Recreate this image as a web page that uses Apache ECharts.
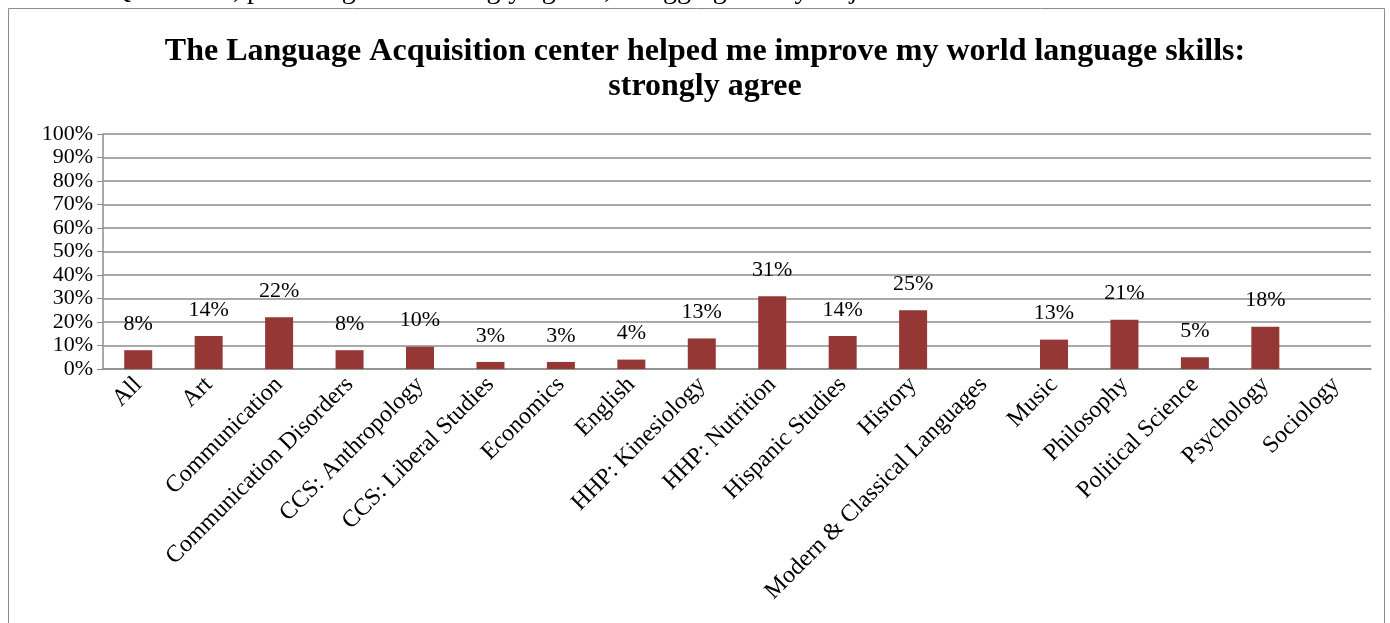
<!DOCTYPE html>
<html>
<head>
<meta charset="utf-8">
<script src="https://cdn.jsdelivr.net/npm/echarts@6/dist/echarts.min.js"></script>
<style>
  html, body { margin: 0; padding: 0; background: #fff; }
  #chart { width: 1390px; height: 623px; }
</style>
</head>
<body>
<div id="chart"></div>
<script>
// majors along the x axis
const majors = [
  'All', 'Art', 'Communication', 'Communication Disorders', 'CCS: Anthropology',
  'CCS: Liberal Studies', 'Economics', 'English', 'HHP: Kinesiology', 'HHP: Nutrition',
  'Hispanic Studies', 'History', 'Modern & Classical Languages', 'Music', 'Philosophy',
  'Political Science', 'Psychology', 'Sociology'
];
// percent who strongly agreed (null = no bar)
const strongAgree = [8, 14, 22, 8, 9.5, 3, 3, 4, 13, 31, 14, 25, null, 12.5, 21, 5, 18, null];
const yTicks = [0, 10, 20, 30, 40, 50, 60, 70, 80, 90, 100];

const serif = '"Liberation Serif", "Times New Roman", serif';
const chart = echarts.init(document.getElementById('chart'));

chart.setOption({
  backgroundColor: '#fff',
  animation: false,
  graphic: [
    // outer chart frame
    {
      type: 'rect',
      shape: { x: 8.5, y: 8.5, width: 1376, height: 700 },
      style: { fill: 'none', stroke: '#8c8c8c', lineWidth: 1 }
    },
    // document caption, clipped at the top edge
    {
      type: 'text',
      left: 0,
      top: -23,
      style: {
        text: 'Chart 11: Question 9, percentage who strongly agreed, disaggregated by major.',
        font: '28px ' + serif,
        fill: '#000'
      }
    },
    // two-line title, centred a little right of the page middle
    {
      type: 'text',
      x: 705,
      y: 34,
      style: {
        text: 'The Language Acquisition center helped me improve my world language skills:\nstrongly agree',
        font: 'bold 32px ' + serif,
        lineHeight: 35,
        align: 'center',
        verticalAlign: 'top',
        fill: '#000'
      }
    }
  ],
  grid: { left: 103, right: 19, top: 134, bottom: 254 },
  xAxis: {
    type: 'category',
    data: majors,
    axisLine: { lineStyle: { color: '#8c8c8c', width: 1.5 } },
    axisTick: { interval: 0, length: 6, lineStyle: { color: '#8c8c8c' } },
    axisLabel: {
      interval: 0,
      rotate: 45,
      margin: 12,
      fontFamily: serif,
      fontSize: 24,
      color: '#000'
    }
  },
  yAxis: {
    type: 'value',
    min: yTicks[0],
    max: yTicks[yTicks.length - 1],
    interval: 10,
    axisLine: { show: true, lineStyle: { color: '#8c8c8c', width: 1.5 } },
    axisTick: { show: true, length: 6, lineStyle: { color: '#8c8c8c' } },
    splitLine: { lineStyle: { color: '#8c8c8c', width: 1.5 } },
    axisLabel: {
      formatter: v => v + '%',
      margin: 10,
      fontFamily: serif,
      fontSize: 22,
      color: '#000'
    }
  },
  series: [{
    type: 'bar',
    data: strongAgree,
    barWidth: 28,
    itemStyle: { color: '#953735' },
    label: {
      show: true,
      position: 'top',
      distance: 15,
      formatter: p => Math.round(p.value) + '%',
      fontFamily: serif,
      fontSize: 22,
      color: '#000'
    }
  }]
});
</script>
</body>
</html>
